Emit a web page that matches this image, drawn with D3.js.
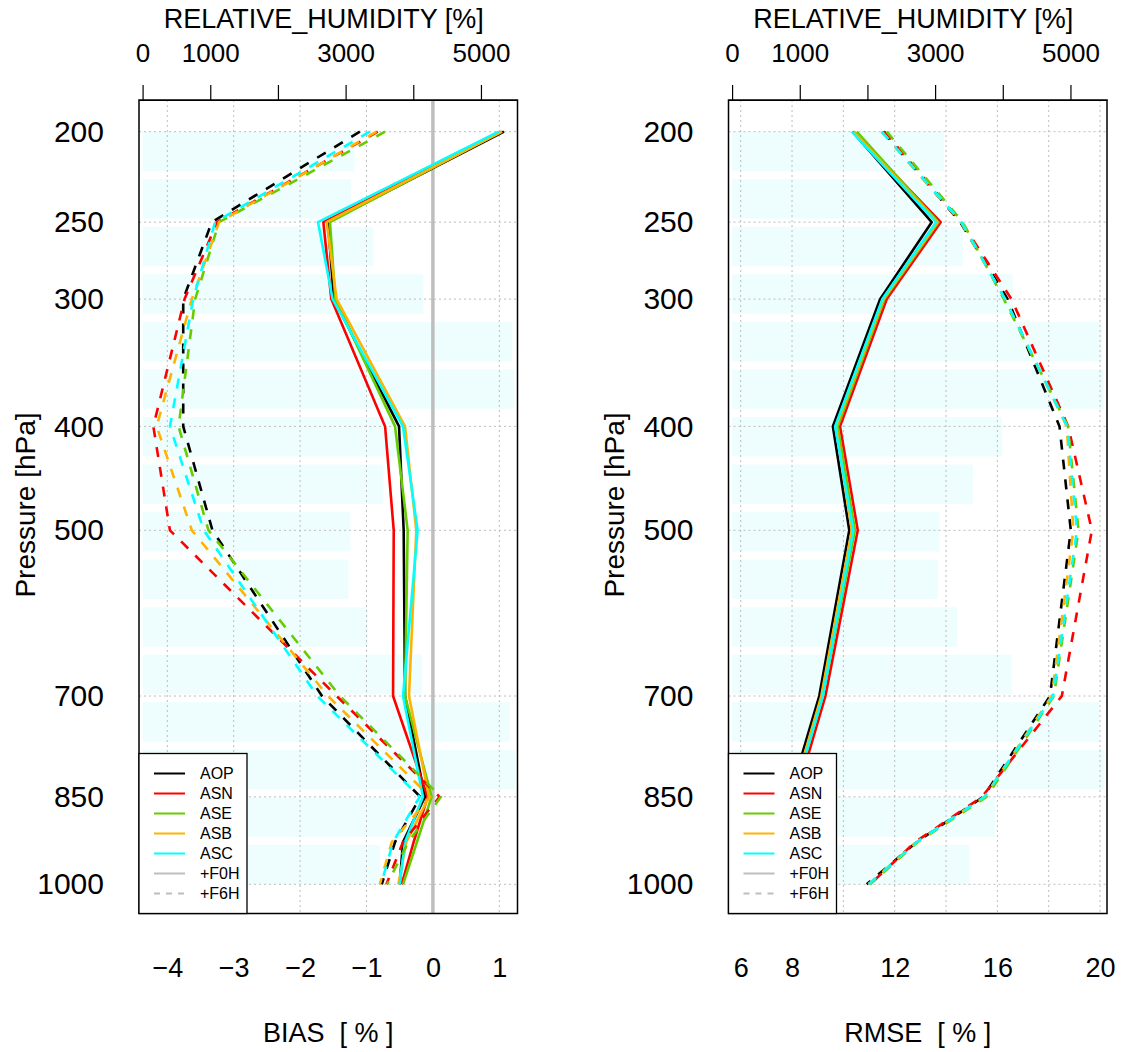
<!DOCTYPE html>
<html>
<head>
<meta charset="utf-8">
<script src="https://cdn.jsdelivr.net/npm/d3@7/dist/d3.min.js"></script>
<style>
  body { margin: 0; background: #fff; }
  svg { display: block; font-family: "Liberation Sans", Arial, Helvetica, sans-serif; }
</style>
</head>
<body>
<div id="chart"></div>
<script>
// ---------------- data ----------------
const levels = [200, 250, 300, 400, 500, 700, 850, 925, 1000];
const levelLabels = [200, 250, 300, 400, 500, 700, 850, 1000];
const experiments = ["AOP", "ASN", "ASE", "ASB", "ASC"];
const expColors = ["#000000", "#FF0000", "#66CC00", "#FFB300", "#00FFFF"];

// BIAS [%], analysis (+F0H, solid)
const biasF0H_AOP = [1.07, -1.58, -1.49, -0.51, -0.44, -0.42, -0.12, -0.45, -0.50];
const biasF0H_ASN = [1.04, -1.65, -1.53, -0.72, -0.59, -0.60, -0.08, -0.29, -0.47];
const biasF0H_ASE = [1.03, -1.55, -1.47, -0.57, -0.38, -0.42, -0.02, -0.24, -0.45];
const biasF0H_ASB = [1.04, -1.60, -1.45, -0.42, -0.25, -0.36, -0.06, -0.40, -0.52];
const biasF0H_ASC = [0.99, -1.73, -1.51, -0.45, -0.23, -0.45, -0.15, -0.42, -0.50];
// BIAS [%], first guess (+F6H, dashed)
const biasF6H_AOP = [-1.10, -3.33, -3.76, -3.76, -3.32, -1.67, -0.19, -0.57, -0.77];
const biasF6H_ASN = [-0.83, -3.25, -3.74, -4.21, -3.96, -1.45, 0.10, -0.45, -0.70];
const biasF6H_ASE = [-0.72, -3.22, -3.58, -3.83, -3.38, -1.40, 0.12, -0.37, -0.69];
const biasF6H_ASB = [-0.85, -3.22, -3.63, -4.16, -3.63, -1.58, -0.04, -0.62, -0.80];
const biasF6H_ASC = [-0.95, -3.28, -3.61, -3.96, -3.45, -1.74, -0.20, -0.60, -0.78];

// RMSE [%]
const rmseF0H_AOP = [10.36, 13.44, 11.43, 9.59, 10.23, 9.06, 7.90, 7.30, 6.90];
const rmseF0H_ASN = [10.40, 13.79, 11.69, 9.87, 10.56, 9.30, 8.15, 7.50, 7.00];
const rmseF0H_ASE = [10.52, 13.70, 11.60, 9.78, 10.45, 9.20, 8.05, 7.40, 6.98];
const rmseF0H_ASB = [10.40, 13.66, 11.56, 9.72, 10.33, 9.14, 8.00, 7.35, 6.95];
const rmseF0H_ASC = [10.33, 13.61, 11.52, 9.68, 10.39, 9.20, 8.05, 7.40, 6.98];
const rmseF6H_AOP = [11.55, 14.55, 16.40, 18.42, 18.86, 18.05, 15.45, 12.86, 10.91];
const rmseF6H_ASN = [11.60, 14.60, 16.55, 18.76, 19.68, 18.51, 15.40, 12.80, 11.04];
const rmseF6H_ASE = [11.69, 14.65, 16.25, 18.75, 19.16, 18.20, 15.58, 12.90, 11.04];
const rmseF6H_ASB = [11.49, 14.58, 16.30, 18.70, 18.96, 18.12, 15.50, 12.86, 10.98];
const rmseF6H_ASC = [11.49, 14.60, 16.30, 18.72, 19.10, 18.17, 15.50, 12.86, 10.98];

// number of observations (RELATIVE_HUMIDITY) per layer, top to bottom
const obsCounts = [3131, 3082, 3411, 4149, 5466, 5490, 3991, 3559, 3068, 3043, 3328, 4130, 5428, 5506, 3883, 3510];

const countTicks = [0, 1000, 2000, 3000, 4000, 5000];
const countTickLabels = [0, 1000, 3000, 5000];
const biasTicks = [-4, -3, -2, -1, 0, 1];
const rmseGrid = [6, 8, 10, 12, 14, 16, 18, 20];
const rmseTicks = [6, 8, 12, 16, 20];
const legendLabels = ["AOP", "ASN", "ASE", "ASB", "ASC", "+F0H", "+F6H"];

// ---------------- layout ----------------
const W = 1123, H = 1052;
const plotTop = 100, plotBottom = 913.5;
const svg = d3.select("#chart").append("svg").attr("width", W).attr("height", H);

const yScale = d3.scalePow().exponent(0.2).domain([200, 1000]).range([plotTop + 31.7, plotBottom - 29.2]);

const panels = [
  { x0: 139, x1: 517.5, domain: [-4.426, 1.274], ticks: biasTicks, grid: biasTicks, title: "BIAS  [ % ]",
    f0: [biasF0H_AOP, biasF0H_ASN, biasF0H_ASE, biasF0H_ASB, biasF0H_ASC],
    f6: [biasF6H_AOP, biasF6H_ASN, biasF6H_ASE, biasF6H_ASB, biasF6H_ASC], zero: true },
  { x0: 728.5, x1: 1107, domain: [5.525, 20.27], ticks: rmseTicks, grid: rmseGrid, title: "RMSE  [ % ]",
    f0: [rmseF0H_AOP, rmseF0H_ASN, rmseF0H_ASE, rmseF0H_ASB, rmseF0H_ASC],
    f6: [rmseF6H_AOP, rmseF6H_ASN, rmseF6H_ASE, rmseF6H_ASB, rmseF6H_ASC], zero: false }
];

const fmt = d3.format("d");

panels.forEach(p => {
  const g = svg.append("g");
  const x = d3.scaleLinear().domain(p.domain).range([p.x0, p.x1]);
  const xc = d3.scaleLinear().domain([-53, 5540]).range([p.x0, p.x1]);
  const band = d3.scaleBand().domain(d3.range(obsCounts.length))
    .range([yScale(200), yScale(1000)]).paddingInner(0.17).paddingOuter(0);

  // histogram bars
  g.append("g").selectAll("rect").data(obsCounts).join("rect")
    .attr("x", xc(0)).attr("y", (d, i) => band(i))
    .attr("width", d => xc(d) - xc(0)).attr("height", band.bandwidth())
    .attr("fill", "#EEFEFE");

  // grid
  g.append("g").selectAll("line").data(p.grid).join("line")
    .attr("x1", d => x(d)).attr("x2", d => x(d)).attr("y1", plotTop).attr("y2", plotBottom)
    .attr("stroke", "#BDBDBD").attr("stroke-width", 1).attr("stroke-dasharray", "2,3");
  g.append("g").selectAll("line").data(levelLabels).join("line")
    .attr("x1", p.x0).attr("x2", p.x1).attr("y1", d => yScale(d)).attr("y2", d => yScale(d))
    .attr("stroke", "#BDBDBD").attr("stroke-width", 1).attr("stroke-dasharray", "2,3");

  if (p.zero) {
    g.append("line").attr("x1", x(0)).attr("x2", x(0)).attr("y1", plotTop).attr("y2", plotBottom)
      .attr("stroke", "#BEBEBE").attr("stroke-width", 3.5);
  }

  // lines
  const line = d3.line().x(d => x(d[0])).y(d => yScale(d[1]));
  experiments.forEach((e, k) => {
    g.append("path").datum(p.f0[k].map((v, i) => [v, levels[i]]))
      .attr("d", line).attr("fill", "none").attr("stroke", expColors[k]).attr("stroke-width", 2.6)
      .attr("stroke-linejoin", "round");
  });
  experiments.forEach((e, k) => {
    g.append("path").datum(p.f6[k].map((v, i) => [v, levels[i]]))
      .attr("d", line).attr("fill", "none").attr("stroke", expColors[k]).attr("stroke-width", 2.6)
      .attr("stroke-dasharray", "10,10").attr("stroke-linejoin", "round");
  });

  // box
  g.append("rect").attr("x", p.x0).attr("y", plotTop).attr("width", p.x1 - p.x0).attr("height", plotBottom - plotTop)
    .attr("fill", "none").attr("stroke", "#000").attr("stroke-width", 1.5);

  // top count axis
  const axTop = g.append("g").attr("transform", `translate(0,${plotTop})`)
    .call(d3.axisTop(xc).tickValues(countTicks).tickSize(15).tickSizeOuter(0).tickPadding(23)
      .tickFormat(d => countTickLabels.includes(d) ? fmt(d) : ""));
  axTop.select(".domain").attr("stroke", "#000").attr("stroke-width", 1.2);
  axTop.selectAll(".tick line").attr("stroke", "#000").attr("stroke-width", 1.2);
  axTop.selectAll("text").attr("font-size", 26).attr("fill", "#000").attr("font-family", null);
  g.append("text").attr("x", (xc(0) + xc(5000)) / 2 + 12).attr("y", 28).attr("text-anchor", "middle")
    .attr("font-size", 27).text("RELATIVE_HUMIDITY [%]");

  // bottom axis
  const axBot = g.append("g").attr("transform", `translate(0,${plotBottom})`)
    .call(d3.axisBottom(x).tickValues(p.ticks).tickSize(0).tickPadding(44).tickFormat(fmt));
  axBot.select(".domain").remove();
  axBot.selectAll("text").attr("font-size", 27).attr("fill", "#000").attr("font-family", null);
  g.append("text").attr("x", (p.x0 + p.x1) / 2).attr("y", 1042).attr("text-anchor", "middle")
    .attr("font-size", 27).attr("xml:space", "preserve").text(p.title);

  // left axis
  const axL = g.append("g").attr("transform", `translate(${p.x0},0)`)
    .call(d3.axisLeft(yScale).tickValues(levelLabels).tickSize(0).tickPadding(35).tickFormat(fmt));
  axL.select(".domain").remove();
  axL.selectAll("text").attr("font-size", 30).attr("fill", "#000").attr("font-family", null);
  g.append("text").attr("transform", `translate(${p.x0 - 114},505) rotate(-90)`)
    .attr("text-anchor", "middle").attr("dy", "0.35em").attr("font-size", 28).text("Pressure [hPa]");

  // legend
  const rowH = 20, lx = p.x0, lw = 108, lh = legendLabels.length * rowH + 20;
  const ly = plotBottom - lh;
  const lg = g.append("g");
  lg.append("rect").attr("x", lx).attr("y", ly).attr("width", lw).attr("height", lh)
    .attr("fill", "#fff").attr("stroke", "#000").attr("stroke-width", 1.3);
  const legColors = expColors.concat(["#BEBEBE", "#BEBEBE"]);
  legendLabels.forEach((lab, i) => {
    const yy = ly + 20 + i * rowH;
    lg.append("line").attr("x1", lx + 15).attr("x2", lx + 46).attr("y1", yy).attr("y2", yy)
      .attr("stroke", legColors[i]).attr("stroke-width", 2)
      .attr("stroke-dasharray", i === 6 ? "6,6" : null);
    lg.append("text").attr("x", lx + 61).attr("y", yy).attr("dy", "0.36em")
      .attr("font-size", 16).text(lab);
  });
});
</script>
</body>
</html>
